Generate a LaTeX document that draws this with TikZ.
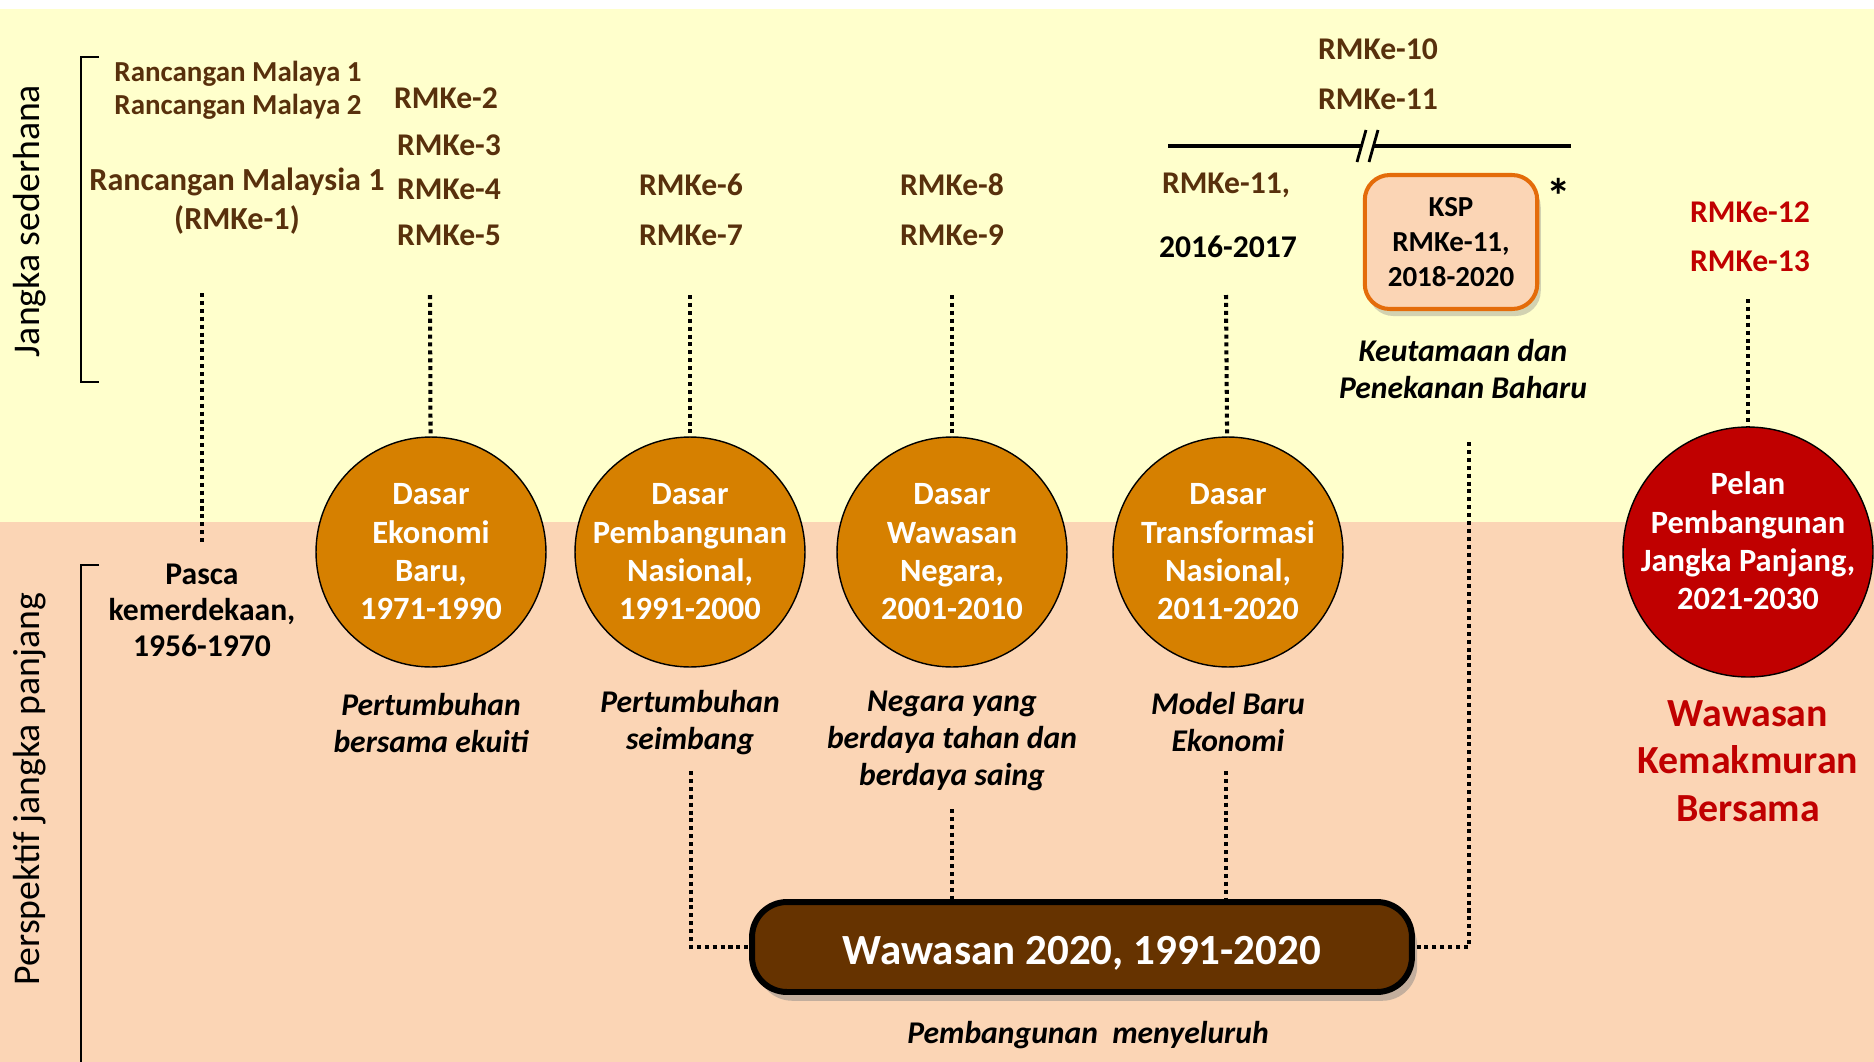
\documentclass[tikz,border=0pt]{standalone}
\usepackage{fontspec}
\setmainfont{Carlito}
\usetikzlibrary{shadows}

\definecolor{bgyellow}{RGB}{255,255,204}
\definecolor{bgpeach}{RGB}{251,213,181}
\definecolor{rmkbrown}{RGB}{88,48,12}
\definecolor{dasarorange}{RGB}{214,128,0}
\definecolor{pelanred}{RGB}{192,0,0}
\definecolor{wawbrown}{RGB}{102,51,0}
\definecolor{ksporange}{RGB}{228,108,10}

\begin{document}
\begin{tikzpicture}[x=0.02cm,y=-0.02cm]
\tikzstyle{rmk}=[text=rmkbrown,font=\bfseries\fontsize{18}{22}\selectfont]
\tikzstyle{blk}=[align=center,font=\bfseries\fontsize{18}{20.5}\selectfont]
\tikzstyle{dasar}=[circle,draw=black,line width=0.8pt,fill=dasarorange,minimum size=4.6cm]
\tikzstyle{intext}=[text=white,align=center,font=\bfseries\fontsize{18.5}{21.8}\selectfont]
\tikzstyle{italabel}=[align=center,font=\bfseries\itshape\fontsize{18}{21}\selectfont]
\tikzstyle{dots}=[line width=2.3pt,dash pattern=on 2.3pt off 2.2pt]
\tikzstyle{vlabel}=[rotate=90,font=\fontsize{21.5}{24}\selectfont]

\useasboundingbox (0,0) rectangle (1874,1062);
\fill[white] (0,0) rectangle (1874,9);
\fill[bgyellow] (0,9) rectangle (1874,522);
\fill[bgpeach] (0,522) rectangle (1874,1062);

% side labels and brackets
\node[vlabel] (jangka) at (30,221) {Jangka sederhana};
\node[vlabel] (persp) at (30,789) {Perspektif jangka panjang};
\draw[line width=1.1pt] (99,57) -- (81,57) -- (81,382) -- (99,382);
\draw[line width=1.1pt] (99,565) -- (81,565) -- (81,1062);

% plans
\node[rmk,font=\bfseries\fontsize{16.5}{19}\selectfont] (rm1) at (238,74) {Rancangan Malaya 1};
\node[rmk,font=\bfseries\fontsize{16.5}{19}\selectfont] (rm2) at (238,107) {Rancangan Malaya 2};
\node[rmk,align=center,font=\bfseries\fontsize{18.3}{22}\selectfont] (rmy1) at (237,201) {Rancangan Malaysia 1\\(RMKe-1)};
\node[rmk] (rmk2) at (446,98) {RMKe-2};
\node[rmk] (rmk3) at (449,145) {RMKe-3};
\node[rmk] (rmk4) at (449,189) {RMKe-4};
\node[rmk] (rmk5) at (449,235) {RMKe-5};
\node[rmk] (rmk6) at (691,185) {RMKe-6};
\node[rmk] (rmk7) at (691,235) {RMKe-7};
\node[rmk] (rmk8) at (952,185) {RMKe-8};
\node[rmk] (rmk9) at (952,235) {RMKe-9};
\node[rmk] (rmk10) at (1378,49) {RMKe-10};
\node[rmk] (rmk11) at (1378,99) {RMKe-11};
\node[rmk] (rmk11b) at (1226,185) {RMKe-11,};
\node[blk] (yr1617) at (1228,247) {2016-2017};
\node[rmk,text=pelanred] (rmk12) at (1750,212) {RMKe-12};
\node[rmk,text=pelanred] (rmk13) at (1750,261) {RMKe-13};

% break line
\draw[line width=2pt] (1168,146) -- (1362,146);
\draw[line width=2pt] (1374,146) -- (1571,146);
\draw[line width=1.6pt] (1357,162) -- (1366,130);
\draw[line width=1.6pt] (1369,162) -- (1378,130);

% KSP
\node[draw=ksporange,line width=2.3pt,fill=bgpeach,rounded corners=0.5cm,
  minimum width=3.45cm,minimum height=2.68cm,align=center,
  font=\bfseries\fontsize{16.5}{19.8}\selectfont,
  drop shadow={shadow xshift=2pt,shadow yshift=-4pt,opacity=0.35}] (ksp) at (1451,242)
  {KSP\\RMKe-11,\\2018-2020};
\node[font=\bfseries\fontsize{28}{28}\selectfont] (ast) at (1559,196) {*};
\node[italabel] (kspl) at (1463,369) {Keutamaan dan\\Penekanan Baharu};

% policies
\node[dasar] (c1) at (431,552) {};
\node[intext] (c1t) at (c1) {Dasar\\Ekonomi\\Baru,\\1971-1990};
\node[dasar] (c2) at (690,552) {};
\node[intext] (c2t) at (c2) {Dasar\\Pembangunan\\Nasional,\\1991-2000};
\node[dasar] (c3) at (952,552) {};
\node[intext] (c3t) at (c3) {Dasar\\Wawasan\\Negara,\\2001-2010};
\node[dasar] (c4) at (1228,552) {};
\node[intext] (c4t) at (c4) {Dasar\\Transformasi\\Nasional,\\2011-2020};
\node[dasar,fill=pelanred,minimum size=5cm] (c5) at (1748,552) {};
\node[intext] (c5t) at (1748,541) {Pelan\\Pembangunan\\Jangka Panjang,\\2021-2030};

\node[blk] (pasca) at (202,610) {Pasca\\kemerdekaan,\\1956-1970};

\node[italabel] (c1l) at (431,723) {Pertumbuhan\\bersama ekuiti};
\node[italabel] (c2l) at (690,723) {Pertumbuhan\\seimbang};
\node[italabel] (c3l) at (952,741) {Negara yang\\berdaya tahan dan\\berdaya saing};
\node[italabel] (c4l) at (1228,722) {Model Baru\\Ekonomi};

\node[align=center,text=pelanred,font=\bfseries\fontsize{22.7}{27.2}\selectfont] (wkb) at (1748,761)
  {Wawasan\\Kemakmuran\\Bersama};

% vision 2020
\node[draw=black,line width=3.4pt,fill=wawbrown,rounded corners=0.7cm,
  minimum width=13.2cm,minimum height=1.8cm,text=white,text height=20pt,text depth=0pt,
  font=\bfseries\fontsize{24.5}{28}\selectfont,
  drop shadow={shadow xshift=3pt,shadow yshift=-5pt,opacity=0.45}] (wbox) at (1082,947)
  {Wawasan 2020, 1991-2020};
\node[italabel] (menye) at (1088,1035) {Pembangunan\ \ menyeluruh};

% dotted links
\coordinate (p0) at (202,293);
\coordinate (t1) at (430,295);
\coordinate (t2) at (690,295);
\coordinate (t3) at (952,295);
\coordinate (t4) at (1226,295);
\coordinate (t5) at (1748,299);
\coordinate (s2) at (691,771);
\coordinate (s3) at (952,809);
\coordinate (s4) at (1226,771);
\coordinate (k0) at (1469,442);

\draw[dots,shorten >=7pt] (p0) -- (pasca.north);
\draw[dots] (t1) -- (c1);
\draw[dots] (t2) -- (c2);
\draw[dots] (t3) -- (c3);
\draw[dots] (t4) -- (c4);
\draw[dots] (t5) -- (c5);
\draw[dots] (s2) |- (wbox.west);
\draw[dots] (s3) -- (s3 |- wbox.north);
\draw[dots] (s4) -- (s4 |- wbox.north);
\draw[dots] (k0) |- (wbox.east);

\end{tikzpicture}
\end{document}
